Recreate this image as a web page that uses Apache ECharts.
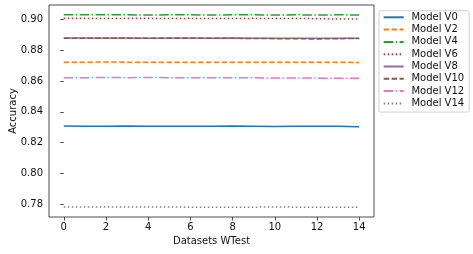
<!DOCTYPE html>
<html><head><meta charset="utf-8">
<script src="https://cdn.jsdelivr.net/npm/echarts@6/dist/echarts.min.js"></script>
<style>html,body{margin:0;padding:0;background:#fff}#c{width:473px;height:254px}</style>
</head><body><div id="c"></div>
<script>
const xValues = [0,1,2,3,4,5,6,7,8,9,10,11,12,13,14];
const seriesNames = ['Model V0','Model V2','Model V4','Model V6','Model V8','Model V10','Model V12','Model V14'];
const v0  = [0.8307,0.8306,0.8305,0.8307,0.8305,0.8306,0.8305,0.8306,0.8307,0.8306,0.8304,0.8305,0.8306,0.8305,0.8302];
const v2  = [0.8722,0.8723,0.8724,0.8723,0.8722,0.8723,0.8722,0.8723,0.8723,0.8722,0.8723,0.8723,0.8722,0.8722,0.8721];
const v4  = [0.9031,0.9031,0.9031,0.9031,0.9030,0.9031,0.9031,0.9030,0.9031,0.9031,0.9030,0.9031,0.9030,0.9031,0.9030];
const v6  = [0.9008,0.9008,0.9007,0.9008,0.9008,0.9007,0.9008,0.9007,0.9007,0.9008,0.9007,0.9007,0.9006,0.9004,0.9004];
const v8  = [0.8880,0.8880,0.8880,0.8880,0.8879,0.8880,0.8880,0.8879,0.8880,0.8879,0.8879,0.8879,0.8879,0.8879,0.8879];
const v10 = [0.8879,0.8879,0.8879,0.8879,0.8878,0.8879,0.8878,0.8878,0.8878,0.8877,0.8876,0.8875,0.8874,0.8876,0.8877];
const v12 = [0.8622,0.8622,0.8623,0.8622,0.8623,0.8622,0.8622,0.8621,0.8621,0.8621,0.8620,0.8620,0.8619,0.8618,0.8618];
const v14 = [0.7780,0.7780,0.7781,0.7780,0.7780,0.7780,0.7779,0.7779,0.7779,0.7779,0.7780,0.7779,0.7779,0.7779,0.7779];
const xTicks = [0,2,4,6,8,10,12,14];
const yTicks = [0.78,0.80,0.82,0.84,0.86,0.88,0.90];

const allValues = [v0,v2,v4,v6,v8,v10,v12,v14];
const colors = ['#1f77b4','#ff7f0e','#2ca02c','#d62728','#9467bd','#8c564b','#e377c2','#7f7f7f'];
const dashes = ['solid',[5.5,2.4],[9.6,2.4,1.5,2.4],[1.5,2.5],'solid',[5.5,2.4],[9.6,2.4,1.5,2.4],[1.5,2.5]];
const font = 'DejaVu Sans';

const series = seriesNames.map((n,i)=>({
  name:n, type:'line', symbol:'none', animation:false,
  data: xValues.map((x,j)=>[x, allValues[i][j]]),
  lineStyle:{color:colors[i], width:1.5, type:dashes[i]},
  itemStyle:{color:colors[i]}
}));

const chart = echarts.init(document.getElementById('c'));
chart.setOption({
  backgroundColor:'#fff',
  animation:false,
  grid:{left:49,right:99,top:5,bottom:37,show:true,containLabel:false,outerBoundsMode:'none',
    borderColor:'#222',borderWidth:0.8,backgroundColor:'transparent'},
  xAxis:{type:'value',min:-0.7,max:14.7,
    name:'Datasets WTest',nameLocation:'middle',nameGap:19,nameMoveOverlap:false,
    nameTextStyle:{fontFamily:font,fontSize:10,color:'#111'},
    axisLine:{show:false},splitLine:{show:false},
    axisTick:{show:true,length:3.5,lineStyle:{color:'#222',width:0.8},customValues:xTicks},
    axisLabel:{fontFamily:font,fontSize:10,color:'#111',margin:5,customValues:xTicks,formatter:v=>String(v)}
  },
  yAxis:{type:'value',min:0.7715,max:0.9095,
    name:'Accuracy',nameLocation:'middle',nameGap:31,nameRotate:90,nameMoveOverlap:false,
    nameTextStyle:{fontFamily:font,fontSize:10,color:'#111'},
    axisLine:{show:false},splitLine:{show:false},
    axisTick:{show:true,length:3.5,lineStyle:{color:'#222',width:0.8},customValues:yTicks},
    axisLabel:{fontFamily:font,fontSize:10,color:'#111',margin:6,customValues:yTicks,formatter:v=>v.toFixed(2)}
  },
  legend:{orient:'vertical',left:379,top:10.7,
    itemWidth:20,itemHeight:12,itemGap:2.3,
    padding:[1.6,5,3.7,3.7],
    itemStyle:{opacity:0},
    borderColor:'#d0d0d0',borderWidth:1,borderRadius:2,backgroundColor:'#fff',
    textStyle:{fontFamily:font,fontSize:10,color:'#111',padding:[0,0,0,2.7]},
    data:seriesNames
  },
  series:series
});
</script></body></html>
